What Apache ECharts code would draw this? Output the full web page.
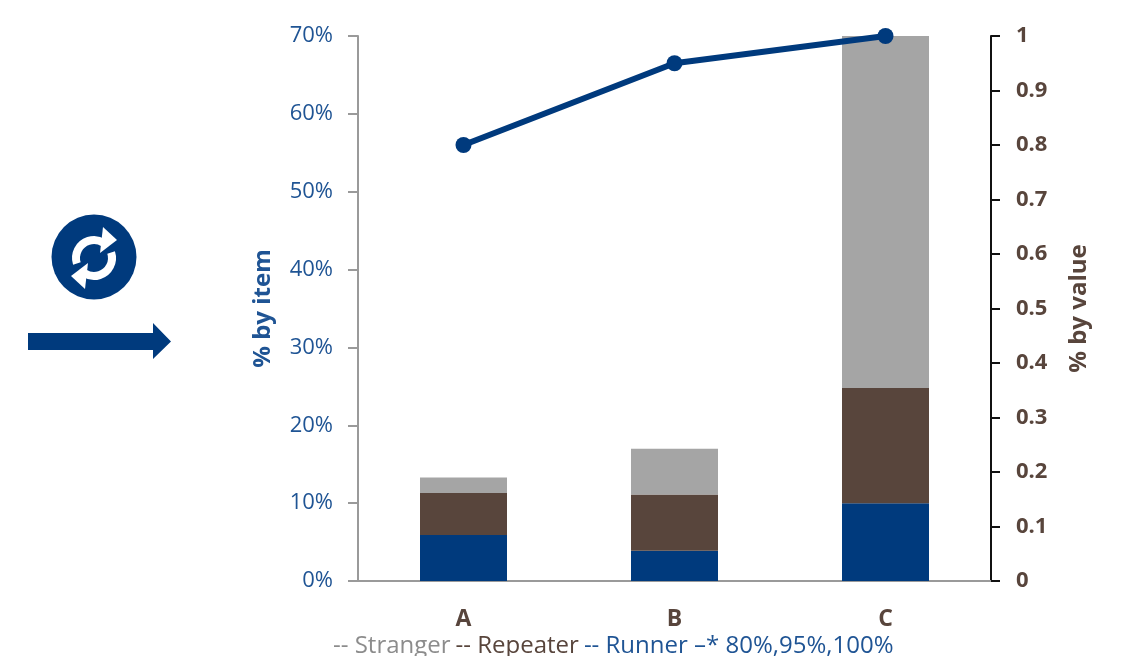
<!DOCTYPE html>
<html>
<head>
<meta charset="utf-8">
<style>html,body{margin:0;padding:0;background:#fff;overflow:hidden}#chart{width:1137px;height:656px}</style>
<script src="https://cdn.jsdelivr.net/npm/echarts@6/dist/echarts.min.js"></script>
</head>
<body>
<div id="chart"></div>
<script>
// ABC classes with their runner / repeater / stranger share of items
const categories = ['A', 'B', 'C'];
const runner = [5.9, 3.9, 10];
const repeater = [5.4, 7.2, 14.8];
const stranger = [2.0, 5.9, 45.2];
const cumulativeValue = [0.8, 0.95, 1];
const leftTicks = [0, 10, 20, 30, 40, 50, 60, 70];

const NAVY = '#003a7d', BROWN = '#58453c', GREY = '#a5a5a5', BLUE_TEXT = '#1f5494';
const FONT = '"Open Sans", "Noto Sans", sans-serif';

const chart = echarts.init(document.getElementById('chart'), null, { renderer: 'canvas' });

function barSeries(name, data, color) {
  return { name, type: 'bar', stack: 'share', data, barWidth: 87, itemStyle: { color } };
}
function captionStyle(color) {
  return { fontFamily: FONT, fontSize: 24, fontWeight: 'normal', color };
}

chart.setOption({
  animation: false,
  backgroundColor: '#fff',
  grid: { left: 358, top: 36, width: 633, height: 545, containLabel: false },
  title: {
    left: 333, top: 634, padding: 0,
    text: '{g|-- Stranger} {b|-- Repeater} {n|-- Runner –* 80%,95%,100%}',
    textStyle: {
      fontWeight: 'normal',
      rich: { g: captionStyle('#8c8c8c'), b: captionStyle(BROWN), n: captionStyle(BLUE_TEXT) }
    }
  },
  xAxis: {
    type: 'category',
    data: categories,
    axisLine: { lineStyle: { color: '#9a9a9a', width: 2 } },
    axisTick: { alignWithLabel: false, length: 9, lineStyle: { color: '#9a9a9a', width: 2 } },
    axisLabel: { color: BROWN, fontFamily: FONT, fontWeight: 'bold', fontSize: 23, margin: 27 }
  },
  yAxis: [
    {
      type: 'value', min: 0, max: 70, interval: 10,
      name: '% by item', nameLocation: 'middle', nameGap: 83, nameRotate: 90,
      nameTextStyle: { color: BLUE_TEXT, fontFamily: FONT, fontWeight: 'bold', fontSize: 24 },
      splitLine: { show: false },
      axisLine: { show: true, lineStyle: { color: '#9a9a9a', width: 2 } },
      axisTick: { show: true, length: 10, lineStyle: { color: '#9a9a9a', width: 2 } },
      axisLabel: {
        color: BLUE_TEXT, fontFamily: FONT, fontSize: 22, margin: 25, padding: [2, 0, 0, 0],
        formatter: v => leftTicks.includes(v) ? v + '%' : ''
      }
    },
    {
      type: 'value', min: 0, max: 1, interval: 0.1, position: 'right',
      name: '% by value', nameLocation: 'middle', nameGap: 76, nameRotate: 90,
      nameTextStyle: { color: BROWN, fontFamily: FONT, fontWeight: 'bold', fontSize: 24 },
      splitLine: { show: false },
      axisLine: { show: true, lineStyle: { color: '#111', width: 2 } },
      axisTick: { show: true, length: 9, lineStyle: { color: '#111', width: 2 } },
      axisLabel: {
        color: BROWN, fontFamily: FONT, fontWeight: 'bold', fontSize: 22, margin: 25,
        formatter: v => String(Math.round(v * 10) / 10)
      }
    }
  ],
  series: [
    barSeries('Runner', runner, NAVY),
    barSeries('Repeater', repeater, BROWN),
    barSeries('Stranger', stranger, GREY),
    {
      name: 'Cumulative value', type: 'line', yAxisIndex: 1, data: cumulativeValue,
      symbol: 'circle', symbolSize: 16, z: 5, clip: false,
      lineStyle: { color: NAVY, width: 6 }, itemStyle: { color: NAVY }
    }
  ],
  graphic: [
    // flow arrow
    { type: 'polygon', shape: { points: [[28,333],[153,333],[153,323],[171,341.5],[153,359],[153,350],[28,350]] }, style: { fill: NAVY } },
    // refresh badge
    { type: 'circle', shape: { cx: 94, cy: 257, r: 42.5 }, style: { fill: NAVY } },
    { type: 'arc', shape: { cx: 94, cy: 258, r: 18, startAngle: Math.PI * 0.9, endAngle: Math.PI * 1.68, clockwise: true },
      style: { stroke: '#fff', lineWidth: 8, fill: null } },
    { type: 'arc', shape: { cx: 94, cy: 258, r: 18, startAngle: Math.PI * 1.9, endAngle: Math.PI * 2.68, clockwise: true },
      style: { stroke: '#fff', lineWidth: 8, fill: null } },
    { type: 'polygon', shape: { points: [[103,227],[117,240],[100,253]] }, style: { fill: '#fff' } },
    { type: 'polygon', shape: { points: [[85,289],[71,276],[88,263]] }, style: { fill: '#fff' } }
  ]
});
</script>
</body>
</html>
